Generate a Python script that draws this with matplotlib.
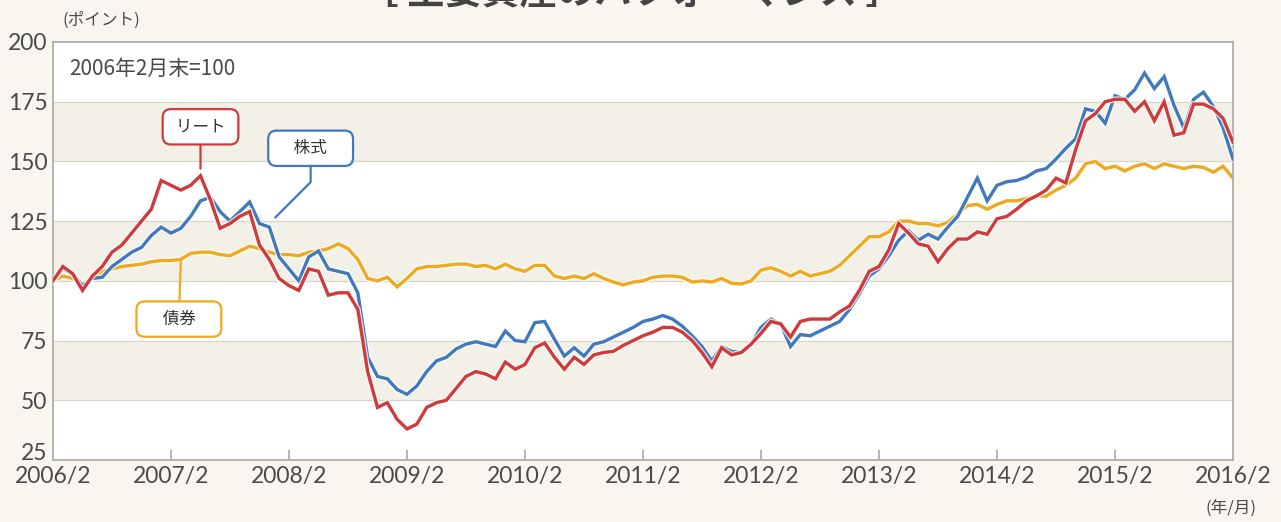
import matplotlib
matplotlib.use("Agg")
import matplotlib.pyplot as plt
import matplotlib.patheffects as pe
import matplotlib.transforms as mtransforms
import numpy as np

plt.rcParams['font.family'] = ['Noto Sans CJK JP', 'DejaVu Sans']

# ---------------- data (monthly, 2006/2 = 100) ----------------
tick_labels = ["2006/2", "2007/2", "2008/2", "2009/2", "2010/2", "2011/2",
               "2012/2", "2013/2", "2014/2", "2015/2", "2016/2"]
y_ticks = [25, 50, 75, 100, 125, 150, 175, 200]

reit = [100, 106, 103, 96, 102, 106, 112, 115, 120, 125, 130, 142, 140, 138, 140,
        144, 134, 122, 124, 127, 129, 115, 109, 101, 98, 96, 105, 104, 94, 95,
        95, 88, 62, 47, 49, 42, 38, 40, 47, 49, 50, 55, 60, 62, 61,
        59, 66, 63, 65, 72, 74, 68, 63, 68, 65, 69, 70, 70.5, 73, 75,
        77, 78.5, 80.5, 80.5, 78.5, 75, 70, 64, 72, 69, 70, 73.5, 78, 83, 82,
        76.5, 83, 84, 84, 84, 87, 89.5, 96, 104, 106, 113, 124, 120, 115.5, 114.5,
        108, 113.5, 117.5, 117.5, 120.5, 119.5, 126, 127, 130, 133.5, 135.5, 138, 143, 141, 155,
        167, 170, 175, 176, 176, 171, 175, 167, 175, 161, 162, 174, 174, 172, 168,
        158]

stock = [100, 105, 103, 98, 101, 101.5, 106, 109, 112, 114, 119, 122.5, 120, 122, 127,
         133.5, 135, 129, 125, 129, 133, 124, 122.5, 110, 105, 100, 110, 112.5, 105, 104,
         103, 95, 68, 60, 59, 54.5, 52.5, 56, 62, 66.5, 68, 71.5, 73.5, 74.5, 73.5,
         72.5, 79, 75, 74.5, 82.5, 83, 75.5, 68.5, 72, 68.5, 73.5, 74.5, 76.5, 78.5, 80.5,
         83, 84, 85.5, 84, 81, 77, 72.5, 66.5, 72.5, 70.5, 70, 73.5, 80.5, 84, 82,
         72.5, 77.5, 77, 79, 81, 83, 88, 94.5, 102, 105, 110.5, 117, 121, 117, 119.5,
         117.5, 122.5, 127, 135, 143, 133.5, 140, 141.5, 142, 143.5, 146, 147, 151, 155.5, 159.5,
         172, 171, 166, 177.5, 176, 180, 187, 180.5, 185.5, 173.5, 164, 176, 179, 173, 164,
         151]

bond = [100, 102, 101, 99, 101, 104, 105, 106, 106.5, 107, 108, 108.5, 108.5, 109, 111.5,
        112, 112, 111, 110.5, 112.5, 114.5, 113.5, 112, 111, 111, 110.5, 112, 112.5, 113.5, 115.5,
        113.5, 109, 101, 100, 101.5, 97.5, 101, 105, 106, 106, 106.5, 107, 107, 106, 106.5,
        105, 107, 105, 104, 106.5, 106.5, 102, 101, 102, 101, 103, 101, 99.5, 98.3, 99.5,
        100, 101.5, 102, 102, 101.5, 99.5, 100, 99.5, 101, 99, 98.7, 100, 104.5, 105.5, 104,
        102, 104, 102, 103, 104, 106.5, 110.5, 114.5, 118.5, 118.5, 120.5, 125, 125, 124, 124,
        123, 124.5, 128, 131.5, 132, 130, 132, 133.5, 133.5, 134.5, 135.5, 135.5, 138, 140, 143,
        149, 150, 147, 148, 146, 148, 149, 147, 149, 148, 147, 148, 147.5, 145.5, 148,
        143]

series_names = ["リート", "株式", "債券"]

# ---------------- styling ----------------
W, H = 1281, 522
BG = "#f8f6ef"
BAND = "#f3f1e7"
GRID = "#d6d4cb"
RED = "#d03a3b"
BLUE = "#4179bd"
YEL = "#eea91e"
TXT = "#4a4a4a"
NUMFONT = ["Lato", "DejaVu Sans"]

fig = plt.figure(figsize=(W / 100, H / 100), dpi=100, facecolor=BG)
ax = fig.add_axes([53 / W, 1 - 460 / H, (1233 - 53) / W, (460 - 42) / H])
ax.set_facecolor("white")

x = np.arange(len(reit))
ax.set_xlim(0, len(reit) - 1)
ax.set_ylim(25, 200)

# alternating bands + gridlines
for lo in (50, 100, 150):
    ax.axhspan(lo, lo + 25, color=BAND, zorder=0, lw=0)
for yv in y_ticks[1:-1]:
    ax.axhline(yv, color=GRID, lw=0.9, zorder=0.5)

halo = [pe.Stroke(linewidth=4.2, foreground="white", alpha=0.8), pe.Normal()]
ax.plot(x, bond, color=YEL, lw=2.4, zorder=2, path_effects=halo, solid_joinstyle="miter")
ax.plot(x, stock, color=BLUE, lw=2.4, zorder=3, path_effects=halo, solid_joinstyle="miter")
ax.plot(x, reit, color=RED, lw=2.4, zorder=4, path_effects=halo, solid_joinstyle="miter")

# axes
for s in ax.spines.values():
    s.set_color("#a9a8a3")
    s.set_linewidth(1.2)
ax.set_yticks(y_ticks)
ax.set_yticklabels([str(v) for v in y_ticks], fontsize=16.5, color=TXT, family=NUMFONT)
ax.tick_params(axis="y", length=0, pad=4)
ax.set_xticks(np.arange(0, len(reit), 12))
ax.set_xticklabels(tick_labels, fontsize=16.5, color=TXT, family=NUMFONT)
ax.tick_params(axis="x", direction="in", length=7, width=1.2, color="#a9a8a3", pad=4)
xt = ax.xaxis.get_major_ticks()
xt[0].tick1line.set_visible(False)
xt[-1].tick1line.set_visible(False)

# lift the lowest y label slightly so it clears the first x label (as in the reference)
ylab0 = ax.get_yticklabels()[0]
ylab0.set_transform(ylab0.get_transform() +
                    mtransforms.ScaledTranslation(0, 6.2 / 72, fig.dpi_scale_trans))

# texts
ax.text(0.014, 0.962, "2006年2月末=100", transform=ax.transAxes, fontsize=15,
        color=TXT, va="top", ha="left")
fig.text(62 / W, 1 - 20 / H, "(ポイント)", fontsize=12, color=TXT, ha="left", va="center")
fig.text(1231 / W, 1 - 508 / H, "(年/月)", fontsize=12, color=TXT, ha="center", va="center")
fig.text(632 / W, 1 + 8 / H, "［ 主要資産のパフォーマンス ］", fontsize=27, fontweight="bold",
         color="#444444", ha="center", va="center")

# callouts
def callout(label, color, xy, xytext, conn):
    ax.annotate(label, xy=xy, xytext=xytext, textcoords="data", fontsize=12,
                color="#333333", ha="center", va="center", zorder=6,
                bbox=dict(boxstyle="round,pad=0.55,rounding_size=0.5", fc="white",
                          ec=color, lw=1.6),
                arrowprops=dict(arrowstyle="-", color=color, lw=1.6,
                                connectionstyle=conn, shrinkA=0, shrinkB=0))

callout(" " + series_names[0] + " ", RED, (15, 147), (15, 164.5), "arc3")
callout("\u3000" + series_names[1] + "\u3000", BLUE, (22.6, 126.5), (26.2, 155.5),
        "angle,angleA=90,angleB=45,rad=0")
callout("\u3000" + series_names[2] + "\u3000", YEL, (13.0, 108.5), (12.8, 84), "arc3")

fig.savefig("out.png", dpi=100, facecolor=BG)
